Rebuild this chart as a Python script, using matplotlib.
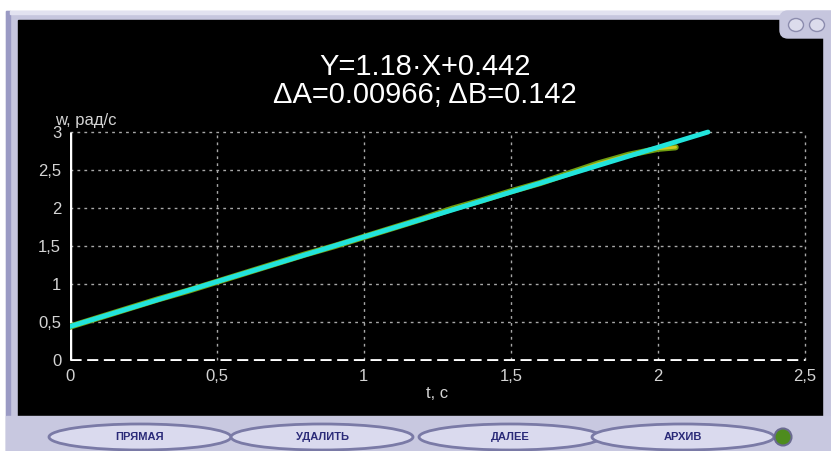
import matplotlib
matplotlib.use("Agg")
import matplotlib.pyplot as plt
from matplotlib.patches import Rectangle, Ellipse, FancyBboxPatch

plt.rcParams["font.family"] = ["Liberation Sans", "DejaVu Sans"]

# measured angular velocity w(t)
t_data = [0.0, 0.1, 0.2, 0.3, 0.4, 0.5, 0.6, 0.7, 0.8, 0.9, 1.0,
          1.1, 1.2, 1.3, 1.4, 1.5, 1.6, 1.7, 1.8, 1.9, 2.0, 2.06]
w_data = [0.44, 0.56, 0.68, 0.80, 0.91, 1.03, 1.15, 1.27, 1.39, 1.50, 1.62,
          1.74, 1.86, 1.99, 2.10, 2.22, 2.33, 2.46, 2.59, 2.70, 2.78, 2.80]

# fitted straight line Y = 1.18*X + 0.442
fit_t = [0.0, 2.17]
fit_w = [0.442, 3.0]

title_lines = ["Y=1.18·X+0.442", "ΔA=0.00966; ΔB=0.142"]
x_ticks = [0, 0.5, 1, 1.5, 2, 2.5]
x_tick_labels = ["0", "0,5", "1", "1,5", "2", "2,5"]
y_ticks = [0, 0.5, 1, 1.5, 2, 2.5, 3]
y_tick_labels = ["0", "0,5", "1", "1,5", "2", "2,5", "3"]
buttons = ["ПРЯМАЯ", "УДАЛИТЬ", "ДАЛЕЕ", "АРХИВ"]
button_x = [140, 322, 510, 683]

W, H = 831, 451
fig = plt.figure(figsize=(W / 100, H / 100), dpi=100, facecolor="white")

# window decoration drawn in pixel coordinates
bg = fig.add_axes([0, 0, 1, 1])
bg.set_xlim(0, W)
bg.set_ylim(H, 0)
bg.axis("off")
bg.add_patch(Rectangle((6, 11), W - 6, H - 11, color="#c6c6de"))
bg.add_patch(Rectangle((6, 11), 4, H - 11, color="#9a9ac4"))
bg.add_patch(Rectangle((10, 11), W - 10, 3, color="#e2e2f0"))
bg.add_patch(Rectangle((18, 20), 804, 396, color="black"))
bg.add_patch(FancyBboxPatch((780, 11), 60, 27, boxstyle="round,pad=0,rounding_size=8",
                            color="#c6c6de"))
for cx in [796, 817]:
    bg.add_patch(Ellipse((cx, 25), 15, 13, facecolor="#dcdcec", edgecolor="#8c8cae", lw=1))
bg.add_patch(Rectangle((6, 416), W - 6, H - 416, color="#c8c8e0"))
for label, bx in zip(buttons, button_x):
    bg.add_patch(Ellipse((bx, 437), 182, 26, facecolor="#dadaee", edgecolor="#7a7aa6", lw=2))
    bg.text(bx, 437, label, color="#2a2a78", fontsize=8, fontweight="bold",
            ha="center", va="center")
bg.add_patch(Ellipse((783, 437), 17, 17, facecolor="#4e8c1e", edgecolor="#6a6a90", lw=1.5))

# chart
ax = fig.add_axes([69.5 / W, (H - 361) / H, (808 - 69.5) / W, (361 - 129) / H])
ax.set_facecolor("black")
ax.set_xlim(0, 2.51)
ax.set_ylim(-0.01, 3.04)
for s in ax.spines.values():
    s.set_visible(False)

grid_kw = dict(color="#a8a8a8", lw=1, linestyle=(0, (2, 3)))
for xv in x_ticks[1:]:
    ax.axvline(xv, ymin=0.003, ymax=3 / 3.05 + 0.003, **grid_kw)
for yv in y_ticks[1:]:
    ax.axhline(yv, xmin=0, xmax=2.5 / 2.51, **grid_kw)
ax.plot([0, 2.5], [0, 0], color="white", lw=2, linestyle=(0, (4, 2)))
ax.plot([0, 0], [0, 3], color="white", lw=2.5, solid_capstyle="butt")

ax.plot(t_data, w_data, color="#6f9e10", lw=4.5, solid_capstyle="round")
ax.plot(t_data, w_data, color="#d0c820", lw=2, solid_capstyle="round")
ax.plot(fit_t, fit_w, color="#22e4dc", lw=3.5, solid_capstyle="round")

ax.set_xticks(x_ticks)
ax.set_xticklabels(x_tick_labels)
ax.set_yticks(y_ticks)
ax.set_yticklabels(y_tick_labels)
ax.tick_params(length=0, colors="#d4d4d4", labelsize=12)
ax.tick_params(axis="x", pad=6)
ax.tick_params(axis="y", pad=6)

fig.text(437 / W, 1 - 393 / H, "t, c", color="#d4d4d4", fontsize=12,
         ha="center", va="center")
fig.text(55 / W, 1 - 120 / H, "w, рад/с", color="#d4d4d4", fontsize=12,
         ha="left", va="center")
fig.text(425 / W, 1 - 67 / H, title_lines[0], color="white", fontsize=21,
         ha="center", va="center")
fig.text(425 / W, 1 - 95 / H, title_lines[1], color="white", fontsize=21,
         ha="center", va="center")

fig.savefig("out.png", dpi=100, facecolor=fig.get_facecolor())
